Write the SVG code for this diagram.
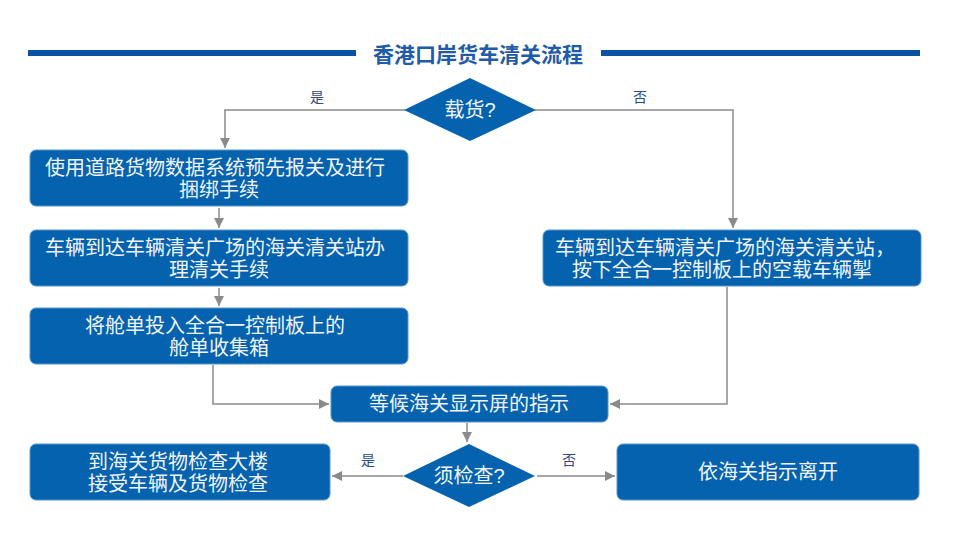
<svg xmlns="http://www.w3.org/2000/svg" width="970" height="545" viewBox="0 0 970 545">
<defs>
<marker id="arr" viewBox="0 0 10 10" refX="10" refY="5" markerWidth="10" markerHeight="10" markerUnits="userSpaceOnUse" orient="auto">
<path d="M0,0 L10,5 L0,10 Z" fill="#8a8a8a"/>
</marker>
<style>
.box{fill:#0562ae;stroke:#5b95cc;stroke-width:1}
.dia{fill:#0562ae}
.t{font-family:"Liberation Sans","Noto Sans CJK SC",sans-serif;font-size:20px;fill:#f0f4fa;text-anchor:middle;dominant-baseline:central}
.lbl{font-family:"Liberation Sans","Noto Sans CJK SC",sans-serif;font-size:14px;fill:#2c4a8c;text-anchor:middle;dominant-baseline:central}
.c{fill:none;stroke:#8a8a8a;stroke-width:1.5;marker-end:url(#arr)}
</style>
</defs>
<rect width="970" height="545" fill="#ffffff"/>
<g id="title">
<rect x="28" y="50" width="328" height="6" fill="#0a52a2"/>
<rect x="601" y="50" width="319" height="6" fill="#0a52a2"/>
<text x="478" y="54" style="font-family:'Liberation Sans','Noto Sans CJK SC',sans-serif;font-size:21px;font-weight:bold;fill:#1f5ba8;text-anchor:middle;dominant-baseline:central">香港口岸货车清关流程</text>
</g>
<g id="connectors">
<polyline class="c" points="405,110 225,110 225,148"/>
<polyline class="c" points="535,110 733,110 733,228"/>
<line class="c" x1="219" y1="208" x2="219" y2="228"/>
<line class="c" x1="219" y1="288" x2="219" y2="306"/>
<polyline class="c" points="213,365 213,404 329,404"/>
<polyline class="c" points="727,287 727,404 610,404"/>
<line class="c" x1="467" y1="423" x2="467" y2="442"/>
<line class="c" x1="403" y1="476" x2="332" y2="476"/>
<line class="c" x1="537" y1="476" x2="615" y2="476"/>
<text class="lbl" x="317" y="97">是</text>
<text class="lbl" x="640" y="97">否</text>
<text class="lbl" x="368" y="460">是</text>
<text class="lbl" x="569" y="460">否</text>
</g>
<g id="d1">
<polygon class="dia" points="470,78 536,110 470,141 404,110"/>
<text class="t" x="470" y="110">载货?</text>
</g>
<g id="n1">
<rect class="box" x="30" y="150" width="378" height="56" rx="6"/>
<text class="t" x="215" y="168">使用道路货物数据系统预先报关及进行</text>
<text class="t" x="219" y="190">捆绑手续</text>
</g>
<g id="n2">
<rect class="box" x="30" y="230" width="378" height="56" rx="6"/>
<text class="t" x="215" y="248">车辆到达车辆清关广场的海关清关站办</text>
<text class="t" x="219" y="270">理清关手续</text>
</g>
<g id="n3">
<rect class="box" x="30" y="308" width="378" height="56" rx="6"/>
<text class="t" x="215" y="326">将舱单投入全合一控制板上的</text>
<text class="t" x="219" y="348">舱单收集箱</text>
</g>
<g id="n4">
<rect class="box" x="543" y="230" width="378" height="56" rx="6"/>
<text class="t" x="725" y="248">车辆到达车辆清关广场的海关清关站，</text>
<text class="t" x="722" y="270">按下全合一控制板上的空载车辆掣</text>
</g>
<g id="n5">
<rect class="box" x="331" y="386" width="277" height="36" rx="6"/>
<text class="t" x="469" y="404">等候海关显示屏的指示</text>
</g>
<g id="d2">
<polygon class="dia" points="469,444 535,476 469,507 403,476"/>
<text class="t" x="469" y="476">须检查?</text>
</g>
<g id="n6">
<rect class="box" x="30" y="444" width="300" height="56" rx="6"/>
<text class="t" x="178" y="462">到海关货物检查大楼</text>
<text class="t" x="178" y="484">接受车辆及货物检查</text>
</g>
<g id="n7">
<rect class="box" x="617" y="444" width="302" height="56" rx="6"/>
<text class="t" x="768" y="472">依海关指示离开</text>
</g>
</svg>
